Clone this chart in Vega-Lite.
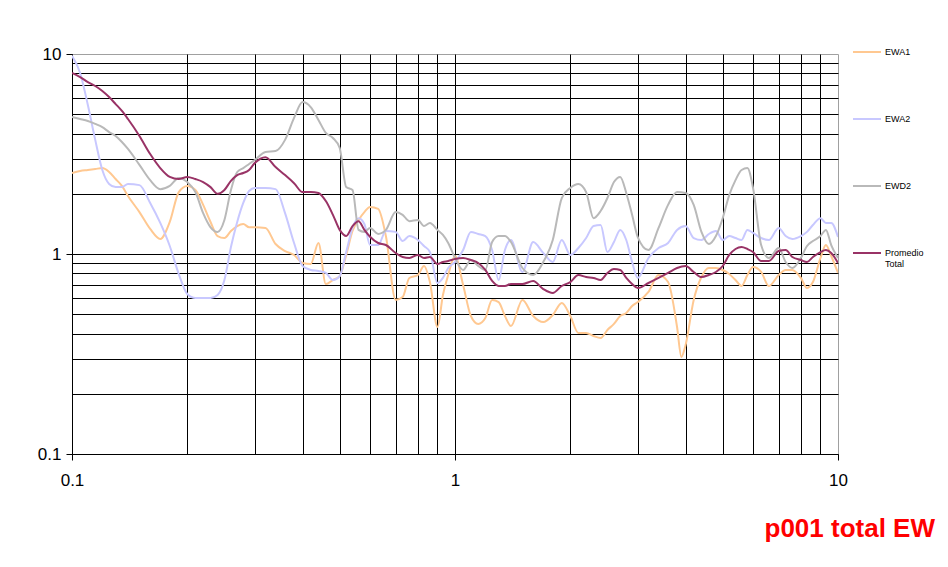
{
 "$schema": "https://vega.github.io/schema/vega-lite/v6.json",
 "width": 766, "height": 400,
 "autosize": {"type": "none"},
 "padding": {"left": 72, "top": 54, "right": 110, "bottom": 113},
 "background": "white",
 "config": {"view": {"stroke": "#a0a0a0", "strokeWidth": 1}, "font": "Liberation Sans"},
 "title": {"text": "p001 total EW", "orient": "bottom", "anchor": "end", "frame": "group", "color": "#FF0000", "fontSize": 26, "fontWeight": "bold", "font": "Liberation Sans", "dx": 97, "offset": 28},
 "data": {"values": [
{"series":"EWA1","x":0.1,"y":2.54},{"series":"EWA1","x":0.105,"y":2.6},{"series":"EWA1","x":0.11,"y":2.63},{"series":"EWA1","x":0.115,"y":2.66},{"series":"EWA1","x":0.12,"y":2.69},{"series":"EWA1","x":0.125,"y":2.57},{"series":"EWA1","x":0.13,"y":2.37},{"series":"EWA1","x":0.135,"y":2.19},{"series":"EWA1","x":0.14,"y":1.95},{"series":"EWA1","x":0.15,"y":1.62},{"series":"EWA1","x":0.16,"y":1.334},{"series":"EWA1","x":0.17,"y":1.189},{"series":"EWA1","x":0.18,"y":1.446},{"series":"EWA1","x":0.19,"y":2.04},{"series":"EWA1","x":0.2,"y":2.19},{"series":"EWA1","x":0.21,"y":2.09},{"series":"EWA1","x":0.22,"y":1.76},{"series":"EWA1","x":0.23,"y":1.446},{"series":"EWA1","x":0.24,"y":1.23},{"series":"EWA1","x":0.25,"y":1.202},{"series":"EWA1","x":0.26,"y":1.303},{"series":"EWA1","x":0.27,"y":1.38},{"series":"EWA1","x":0.28,"y":1.413},{"series":"EWA1","x":0.29,"y":1.36},{"series":"EWA1","x":0.3,"y":1.36},{"series":"EWA1","x":0.32,"y":1.35},{"series":"EWA1","x":0.34,"y":1.122},{"series":"EWA1","x":0.36,"y":1.035},{"series":"EWA1","x":0.38,"y":0.989},{"series":"EWA1","x":0.4,"y":0.902},{"series":"EWA1","x":0.42,"y":0.891},{"series":"EWA1","x":0.44,"y":1.135},{"series":"EWA1","x":0.46,"y":0.708},{"series":"EWA1","x":0.48,"y":0.741},{"series":"EWA1","x":0.5,"y":0.776},{"series":"EWA1","x":0.52,"y":0.989},{"series":"EWA1","x":0.54,"y":1.303},{"series":"EWA1","x":0.56,"y":1.48},{"series":"EWA1","x":0.58,"y":1.62},{"series":"EWA1","x":0.6,"y":1.72},{"series":"EWA1","x":0.63,"y":1.68},{"series":"EWA1","x":0.66,"y":1.23},{"series":"EWA1","x":0.7,"y":0.589},{"series":"EWA1","x":0.73,"y":0.609},{"series":"EWA1","x":0.76,"y":0.759},{"series":"EWA1","x":0.8,"y":0.785},{"series":"EWA1","x":0.83,"y":0.871},{"series":"EWA1","x":0.86,"y":0.724},{"series":"EWA1","x":0.9,"y":0.4315},{"series":"EWA1","x":0.93,"y":0.624},{"series":"EWA1","x":0.96,"y":0.785},{"series":"EWA1","x":1.0,"y":0.977},
{"series":"EWA1","x":1.05,"y":0.7},{"series":"EWA1","x":1.1,"y":0.49},{"series":"EWA1","x":1.15,"y":0.447},{"series":"EWA1","x":1.2,"y":0.4786},{"series":"EWA1","x":1.25,"y":0.589},{"series":"EWA1","x":1.3,"y":0.575},{"series":"EWA1","x":1.35,"y":0.49},{"series":"EWA1","x":1.4,"y":0.4365},
{"series":"EWA1","x":1.5,"y":0.589},{"series":"EWA1","x":1.6,"y":0.49},{"series":"EWA1","x":1.7,"y":0.457},{"series":"EWA1","x":1.8,"y":0.4955},{"series":"EWA1","x":1.9,"y":0.569},{"series":"EWA1","x":2.0,"y":0.49},{"series":"EWA1","x":2.1,"y":0.4027},{"series":"EWA1","x":2.2,"y":0.4027},{"series":"EWA1","x":2.3,"y":0.389},{"series":"EWA1","x":2.4,"y":0.38},{"series":"EWA1","x":2.5,"y":0.417},{"series":"EWA1","x":2.6,"y":0.447},{"series":"EWA1","x":2.7,"y":0.49},{"series":"EWA1","x":2.8,"y":0.507},{"series":"EWA1","x":2.9,"y":0.5496},{"series":"EWA1","x":3.0,"y":0.575},
{"series":"EWA1","x":3.2,"y":0.646},{"series":"EWA1","x":3.4,"y":0.785},{"series":"EWA1","x":3.6,"y":0.724},{"series":"EWA1","x":3.8,"y":0.4315},{"series":"EWA1","x":3.9,"y":0.3055},{"series":"EWA1","x":4.0,"y":0.3507},{"series":"EWA1","x":4.2,"y":0.589},{"series":"EWA1","x":4.4,"y":0.767},{"series":"EWA1","x":4.6,"y":0.851},{"series":"EWA1","x":4.8,"y":0.851},{"series":"EWA1","x":5.0,"y":0.832},{"series":"EWA1","x":5.2,"y":0.794},{"series":"EWA1","x":5.4,"y":0.741},{"series":"EWA1","x":5.6,"y":0.692},{"series":"EWA1","x":5.8,"y":0.785},{"series":"EWA1","x":6.0,"y":0.861},
{"series":"EWA1","x":6.3,"y":0.813},{"series":"EWA1","x":6.6,"y":0.692},{"series":"EWA1","x":7.0,"y":0.785},{"series":"EWA1","x":7.3,"y":0.832},{"series":"EWA1","x":7.6,"y":0.832},{"series":"EWA1","x":8.0,"y":0.759},{"series":"EWA1","x":8.3,"y":0.676},{"series":"EWA1","x":8.6,"y":0.724},{"series":"EWA1","x":9.0,"y":0.955},{"series":"EWA1","x":9.3,"y":1.109},{"series":"EWA1","x":9.6,"y":0.977},{"series":"EWA1","x":10,"y":0.804},

{"series":"EWA2","x":0.1,"y":9.8},{"series":"EWA2","x":0.105,"y":8.04},{"series":"EWA2","x":0.11,"y":5.56},{"series":"EWA2","x":0.115,"y":3.72},{"series":"EWA2","x":0.12,"y":2.63},{"series":"EWA2","x":0.125,"y":2.24},{"series":"EWA2","x":0.13,"y":2.16},{"series":"EWA2","x":0.135,"y":2.16},{"series":"EWA2","x":0.14,"y":2.24},{"series":"EWA2","x":0.15,"y":2.21},{"series":"EWA2","x":0.16,"y":1.8},{"series":"EWA2","x":0.17,"y":1.43},{"series":"EWA2","x":0.18,"y":1.0965},{"series":"EWA2","x":0.19,"y":0.794},{"series":"EWA2","x":0.2,"y":0.631},{"series":"EWA2","x":0.21,"y":0.6025},{"series":"EWA2","x":0.22,"y":0.6025},{"series":"EWA2","x":0.23,"y":0.6025},{"series":"EWA2","x":0.24,"y":0.624},{"series":"EWA2","x":0.25,"y":0.741},{"series":"EWA2","x":0.26,"y":1.084},{"series":"EWA2","x":0.27,"y":1.446},{"series":"EWA2","x":0.28,"y":1.8},{"series":"EWA2","x":0.29,"y":2.065},{"series":"EWA2","x":0.3,"y":2.14},{"series":"EWA2","x":0.32,"y":2.14},{"series":"EWA2","x":0.34,"y":2.11},{"series":"EWA2","x":0.36,"y":1.6},{"series":"EWA2","x":0.38,"y":1.135},{"series":"EWA2","x":0.4,"y":0.871},{"series":"EWA2","x":0.42,"y":0.832},{"series":"EWA2","x":0.44,"y":0.822},{"series":"EWA2","x":0.46,"y":0.804},{"series":"EWA2","x":0.48,"y":0.741},{"series":"EWA2","x":0.5,"y":0.776},{"series":"EWA2","x":0.52,"y":1.023},{"series":"EWA2","x":0.54,"y":1.35},{"series":"EWA2","x":0.56,"y":1.51},{"series":"EWA2","x":0.58,"y":1.413},{"series":"EWA2","x":0.6,"y":1.109},{"series":"EWA2","x":0.63,"y":1.109},{"series":"EWA2","x":0.66,"y":1.303},{"series":"EWA2","x":0.7,"y":1.29},{"series":"EWA2","x":0.73,"y":1.161},{"series":"EWA2","x":0.76,"y":1.23},{"series":"EWA2","x":0.8,"y":1.175},{"series":"EWA2","x":0.83,"y":1.0965},{"series":"EWA2","x":0.86,"y":1.023},{"series":"EWA2","x":0.9,"y":0.716},{"series":"EWA2","x":0.93,"y":0.759},{"series":"EWA2","x":0.96,"y":0.851},{"series":"EWA2","x":1.0,"y":0.912},
{"series":"EWA2","x":1.05,"y":1.047},{"series":"EWA2","x":1.1,"y":1.29},{"series":"EWA2","x":1.15,"y":1.259},{"series":"EWA2","x":1.2,"y":1.23},{"series":"EWA2","x":1.25,"y":1.047},{"series":"EWA2","x":1.3,"y":0.741},{"series":"EWA2","x":1.35,"y":1.047},{"series":"EWA2","x":1.4,"y":1.175},
{"series":"EWA2","x":1.5,"y":0.813},{"series":"EWA2","x":1.6,"y":1.148},{"series":"EWA2","x":1.7,"y":1.012},{"series":"EWA2","x":1.8,"y":0.912},{"series":"EWA2","x":1.9,"y":1.175},{"series":"EWA2","x":2.0,"y":0.989},{"series":"EWA2","x":2.1,"y":1.0715},{"series":"EWA2","x":2.2,"y":1.202},{"series":"EWA2","x":2.3,"y":1.38},{"series":"EWA2","x":2.4,"y":1.396},{"series":"EWA2","x":2.5,"y":1.023},{"series":"EWA2","x":2.6,"y":1.148},{"series":"EWA2","x":2.7,"y":1.32},{"series":"EWA2","x":2.8,"y":1.175},{"series":"EWA2","x":2.9,"y":0.912},{"series":"EWA2","x":3.0,"y":0.759},
{"series":"EWA2","x":3.2,"y":0.955},{"series":"EWA2","x":3.4,"y":1.0715},{"series":"EWA2","x":3.6,"y":1.135},{"series":"EWA2","x":3.8,"y":1.32},{"series":"EWA2","x":4.0,"y":1.38},{"series":"EWA2","x":4.2,"y":1.202},{"series":"EWA2","x":4.4,"y":1.175},{"series":"EWA2","x":4.6,"y":1.259},{"series":"EWA2","x":4.8,"y":1.303},{"series":"EWA2","x":5.0,"y":1.175},{"series":"EWA2","x":5.2,"y":1.23},{"series":"EWA2","x":5.4,"y":1.202},{"series":"EWA2","x":5.6,"y":1.175},{"series":"EWA2","x":5.8,"y":1.32},{"series":"EWA2","x":6.0,"y":1.274},
{"series":"EWA2","x":6.3,"y":1.202},{"series":"EWA2","x":6.6,"y":1.175},{"series":"EWA2","x":7.0,"y":1.35},{"series":"EWA2","x":7.3,"y":1.23},{"series":"EWA2","x":7.6,"y":1.189},{"series":"EWA2","x":8.0,"y":1.23},{"series":"EWA2","x":8.3,"y":1.29},{"series":"EWA2","x":8.6,"y":1.396},{"series":"EWA2","x":9.0,"y":1.51},{"series":"EWA2","x":9.3,"y":1.43},{"series":"EWA2","x":9.6,"y":1.43},{"series":"EWA2","x":10,"y":1.216},

{"series":"EWD2","x":0.1,"y":4.84},{"series":"EWD2","x":0.105,"y":4.73},{"series":"EWD2","x":0.11,"y":4.62},{"series":"EWD2","x":0.115,"y":4.47},{"series":"EWD2","x":0.12,"y":4.31},{"series":"EWD2","x":0.125,"y":4.07},{"series":"EWD2","x":0.13,"y":3.89},{"series":"EWD2","x":0.135,"y":3.63},{"series":"EWD2","x":0.14,"y":3.35},{"series":"EWD2","x":0.15,"y":2.79},{"series":"EWD2","x":0.16,"y":2.34},{"series":"EWD2","x":0.17,"y":2.11},{"series":"EWD2","x":0.18,"y":2.19},{"series":"EWD2","x":0.19,"y":2.4},{"series":"EWD2","x":0.2,"y":2.29},{"series":"EWD2","x":0.21,"y":2.04},{"series":"EWD2","x":0.22,"y":1.6},{"series":"EWD2","x":0.23,"y":1.36},{"series":"EWD2","x":0.24,"y":1.29},{"series":"EWD2","x":0.25,"y":1.48},{"series":"EWD2","x":0.26,"y":2.09},{"series":"EWD2","x":0.27,"y":2.57},{"series":"EWD2","x":0.28,"y":2.69},{"series":"EWD2","x":0.29,"y":2.82},{"series":"EWD2","x":0.3,"y":2.95},{"series":"EWD2","x":0.32,"y":3.24},{"series":"EWD2","x":0.34,"y":3.27},{"series":"EWD2","x":0.36,"y":3.72},{"series":"EWD2","x":0.38,"y":4.79},{"series":"EWD2","x":0.4,"y":5.75},{"series":"EWD2","x":0.42,"y":5.43},{"series":"EWD2","x":0.44,"y":4.68},{"series":"EWD2","x":0.46,"y":4.03},{"series":"EWD2","x":0.48,"y":3.8},{"series":"EWD2","x":0.5,"y":3.39},{"series":"EWD2","x":0.52,"y":2.16},{"series":"EWD2","x":0.54,"y":2.09},{"series":"EWD2","x":0.56,"y":1.32},{"series":"EWD2","x":0.58,"y":1.29},{"series":"EWD2","x":0.6,"y":1.35},{"series":"EWD2","x":0.63,"y":1.26},{"series":"EWD2","x":0.66,"y":1.32},{"series":"EWD2","x":0.7,"y":1.62},{"series":"EWD2","x":0.73,"y":1.57},{"series":"EWD2","x":0.76,"y":1.46},{"series":"EWD2","x":0.8,"y":1.48},{"series":"EWD2","x":0.83,"y":1.38},{"series":"EWD2","x":0.86,"y":1.43},{"series":"EWD2","x":0.9,"y":1.32},{"series":"EWD2","x":0.93,"y":1.245},{"series":"EWD2","x":0.96,"y":1.135},{"series":"EWD2","x":1.0,"y":0.955},
{"series":"EWD2","x":1.05,"y":0.832},{"series":"EWD2","x":1.1,"y":0.933},{"series":"EWD2","x":1.15,"y":0.871},{"series":"EWD2","x":1.2,"y":0.832},{"series":"EWD2","x":1.25,"y":1.148},{"series":"EWD2","x":1.3,"y":1.23},{"series":"EWD2","x":1.35,"y":1.23},{"series":"EWD2","x":1.4,"y":1.148},
{"series":"EWD2","x":1.5,"y":0.851},{"series":"EWD2","x":1.6,"y":0.785},{"series":"EWD2","x":1.7,"y":0.912},{"series":"EWD2","x":1.8,"y":1.175},{"series":"EWD2","x":1.9,"y":1.905},{"series":"EWD2","x":2.0,"y":2.14},{"series":"EWD2","x":2.1,"y":2.24},{"series":"EWD2","x":2.2,"y":2.04},{"series":"EWD2","x":2.3,"y":1.51},{"series":"EWD2","x":2.4,"y":1.64},{"series":"EWD2","x":2.5,"y":1.905},{"series":"EWD2","x":2.6,"y":2.29},{"series":"EWD2","x":2.7,"y":2.43},{"series":"EWD2","x":2.8,"y":2.02},{"series":"EWD2","x":2.9,"y":1.57},{"series":"EWD2","x":3.0,"y":1.216},
{"series":"EWD2","x":3.2,"y":1.047},{"series":"EWD2","x":3.4,"y":1.35},{"series":"EWD2","x":3.6,"y":1.76},{"series":"EWD2","x":3.8,"y":2.04},{"series":"EWD2","x":4.0,"y":2.02},{"series":"EWD2","x":4.2,"y":1.76},{"series":"EWD2","x":4.4,"y":1.29},{"series":"EWD2","x":4.6,"y":1.122},{"series":"EWD2","x":4.8,"y":1.23},{"series":"EWD2","x":5.0,"y":1.51},{"series":"EWD2","x":5.2,"y":1.97},{"series":"EWD2","x":5.4,"y":2.34},{"series":"EWD2","x":5.6,"y":2.63},{"series":"EWD2","x":5.8,"y":2.69},{"series":"EWD2","x":6.0,"y":2.14},
{"series":"EWD2","x":6.3,"y":1.109},{"series":"EWD2","x":6.6,"y":0.955},{"series":"EWD2","x":7.0,"y":1.0715},{"series":"EWD2","x":7.3,"y":0.912},{"series":"EWD2","x":7.6,"y":0.851},{"series":"EWD2","x":8.0,"y":0.955},{"series":"EWD2","x":8.3,"y":1.0965},{"series":"EWD2","x":8.6,"y":1.161},{"series":"EWD2","x":9.0,"y":1.23},{"series":"EWD2","x":9.3,"y":1.32},{"series":"EWD2","x":9.6,"y":1.109},{"series":"EWD2","x":10,"y":0.955},

{"series":"Promedio Total","x":0.1,"y":8.04},{"series":"Promedio Total","x":0.105,"y":7.67},{"series":"Promedio Total","x":0.11,"y":7.24},{"series":"Promedio Total","x":0.115,"y":6.92},{"series":"Promedio Total","x":0.12,"y":6.53},{"series":"Promedio Total","x":0.125,"y":6.09},{"series":"Promedio Total","x":0.13,"y":5.62},{"series":"Promedio Total","x":0.135,"y":5.19},{"series":"Promedio Total","x":0.14,"y":4.73},{"series":"Promedio Total","x":0.15,"y":3.89},{"series":"Promedio Total","x":0.16,"y":3.16},{"series":"Promedio Total","x":0.17,"y":2.69},{"series":"Promedio Total","x":0.18,"y":2.43},{"series":"Promedio Total","x":0.19,"y":2.37},{"series":"Promedio Total","x":0.2,"y":2.43},{"series":"Promedio Total","x":0.21,"y":2.37},{"series":"Promedio Total","x":0.22,"y":2.29},{"series":"Promedio Total","x":0.23,"y":2.16},{"series":"Promedio Total","x":0.24,"y":2.0},{"series":"Promedio Total","x":0.25,"y":2.09},{"series":"Promedio Total","x":0.26,"y":2.32},{"series":"Promedio Total","x":0.27,"y":2.48},{"series":"Promedio Total","x":0.28,"y":2.54},{"series":"Promedio Total","x":0.29,"y":2.63},{"series":"Promedio Total","x":0.3,"y":2.85},{"series":"Promedio Total","x":0.32,"y":3.05},{"series":"Promedio Total","x":0.34,"y":2.72},{"series":"Promedio Total","x":0.36,"y":2.48},{"series":"Promedio Total","x":0.38,"y":2.26},{"series":"Promedio Total","x":0.4,"y":2.04},{"series":"Promedio Total","x":0.42,"y":2.04},{"series":"Promedio Total","x":0.44,"y":2.02},{"series":"Promedio Total","x":0.46,"y":1.84},{"series":"Promedio Total","x":0.48,"y":1.57},{"series":"Promedio Total","x":0.5,"y":1.32},{"series":"Promedio Total","x":0.52,"y":1.23},{"series":"Promedio Total","x":0.54,"y":1.38},{"series":"Promedio Total","x":0.56,"y":1.46},{"series":"Promedio Total","x":0.58,"y":1.32},{"series":"Promedio Total","x":0.6,"y":1.22},{"series":"Promedio Total","x":0.63,"y":1.135},{"series":"Promedio Total","x":0.66,"y":1.109},{"series":"Promedio Total","x":0.7,"y":1.012},{"series":"Promedio Total","x":0.73,"y":0.966},{"series":"Promedio Total","x":0.76,"y":0.955},{"series":"Promedio Total","x":0.8,"y":0.989},{"series":"Promedio Total","x":0.83,"y":0.955},{"series":"Promedio Total","x":0.86,"y":0.966},{"series":"Promedio Total","x":0.9,"y":0.891},{"series":"Promedio Total","x":0.93,"y":0.912},{"series":"Promedio Total","x":0.96,"y":0.923},{"series":"Promedio Total","x":1.0,"y":0.944},
{"series":"Promedio Total","x":1.05,"y":0.955},{"series":"Promedio Total","x":1.1,"y":0.933},{"series":"Promedio Total","x":1.15,"y":0.902},{"series":"Promedio Total","x":1.2,"y":0.832},{"series":"Promedio Total","x":1.25,"y":0.733},{"series":"Promedio Total","x":1.3,"y":0.692},{"series":"Promedio Total","x":1.35,"y":0.692},{"series":"Promedio Total","x":1.4,"y":0.708},
{"series":"Promedio Total","x":1.5,"y":0.708},{"series":"Promedio Total","x":1.6,"y":0.733},{"series":"Promedio Total","x":1.7,"y":0.668},{"series":"Promedio Total","x":1.8,"y":0.638},{"series":"Promedio Total","x":1.9,"y":0.692},{"series":"Promedio Total","x":2.0,"y":0.724},{"series":"Promedio Total","x":2.1,"y":0.785},{"series":"Promedio Total","x":2.2,"y":0.767},{"series":"Promedio Total","x":2.3,"y":0.759},{"series":"Promedio Total","x":2.4,"y":0.741},{"series":"Promedio Total","x":2.5,"y":0.804},{"series":"Promedio Total","x":2.6,"y":0.841},{"series":"Promedio Total","x":2.7,"y":0.832},{"series":"Promedio Total","x":2.8,"y":0.759},{"series":"Promedio Total","x":2.9,"y":0.708},{"series":"Promedio Total","x":3.0,"y":0.676},
{"series":"Promedio Total","x":3.2,"y":0.716},{"series":"Promedio Total","x":3.4,"y":0.759},{"series":"Promedio Total","x":3.6,"y":0.804},{"series":"Promedio Total","x":3.8,"y":0.851},{"series":"Promedio Total","x":4.0,"y":0.871},{"series":"Promedio Total","x":4.2,"y":0.813},{"series":"Promedio Total","x":4.4,"y":0.767},{"series":"Promedio Total","x":4.6,"y":0.785},{"series":"Promedio Total","x":4.8,"y":0.813},{"series":"Promedio Total","x":5.0,"y":0.871},{"series":"Promedio Total","x":5.2,"y":0.989},{"series":"Promedio Total","x":5.4,"y":1.059},{"series":"Promedio Total","x":5.6,"y":1.084},{"series":"Promedio Total","x":5.8,"y":1.059},{"series":"Promedio Total","x":6.0,"y":1.023},
{"series":"Promedio Total","x":6.3,"y":0.923},{"series":"Promedio Total","x":6.6,"y":0.923},{"series":"Promedio Total","x":7.0,"y":1.035},{"series":"Promedio Total","x":7.3,"y":1.047},{"series":"Promedio Total","x":7.6,"y":0.966},{"series":"Promedio Total","x":8.0,"y":0.933},{"series":"Promedio Total","x":8.3,"y":0.912},{"series":"Promedio Total","x":8.6,"y":0.966},{"series":"Promedio Total","x":9.0,"y":1.023},{"series":"Promedio Total","x":9.3,"y":1.047},{"series":"Promedio Total","x":9.6,"y":1.012},{"series":"Promedio Total","x":10,"y":0.902}
 ]},
 "mark": {"type": "line", "interpolate": "monotone", "clip": true},
 "encoding": {
  "x": {"field": "x", "type": "quantitative", "scale": {"type": "log", "domain": [0.1, 10], "nice": false},
        "axis": {"title": null, "values": [0.1,0.2,0.3,0.4,0.5,0.6,0.7,0.8,0.9,1,2,3,4,5,6,7,8,9,10], "format": "~g",
                 "labelExpr": "(datum.value == 0.1 || datum.value == 1 || datum.value == 10) ? datum.label : ''",
                 "labelFont": "Liberation Sans", "labelFontSize": 17, "labelColor": "#000", "labelPadding": 12, "labelOverlap": false, "labelFlush": false,
                 "tickSize": 6, "tickColor": "#000", "tickOpacity": {"condition": {"test": "datum.value == 0.1 || datum.value == 1 || datum.value == 10", "value": 1}, "value": 0},
                 "domainColor": "#000", "domainWidth": 1,
                 "grid": true, "gridColor": "#000", "gridWidth": 1, "gridOpacity": {"condition": {"test": "datum.value >= 10", "value": 0}, "value": 1}}},
  "y": {"field": "y", "type": "quantitative", "scale": {"type": "log", "domain": [0.1, 10], "nice": false},
        "axis": {"title": null, "values": [0.1,0.2,0.3,0.4,0.5,0.6,0.7,0.8,0.9,1,2,3,4,5,6,7,8,9,10], "format": "~g",
                 "labelExpr": "(datum.value == 0.1 || datum.value == 1 || datum.value == 10) ? datum.label : ''",
                 "labelFont": "Liberation Sans", "labelFontSize": 17, "labelColor": "#000", "labelPadding": 5, "labelOverlap": false, "labelFlush": false,
                 "tickSize": 6, "tickColor": "#000", "tickOpacity": {"condition": {"test": "datum.value == 0.1 || datum.value == 1 || datum.value == 10", "value": 1}, "value": 0},
                 "domainColor": "#000", "domainWidth": 1,
                 "grid": true, "gridColor": "#000", "gridWidth": 1, "gridOpacity": {"condition": {"test": "datum.value >= 10", "value": 0}, "value": 1}}},
  "color": {"field": "series", "type": "nominal",
            "scale": {"domain": ["EWA1", "EWA2", "EWD2", "Promedio Total"], "range": ["#FFC891", "#C8C8FF", "#B9B9B9", "#993366"]},
            "legend": {"title": null, "orient": "none", "legendX": 780, "legendY": -17, "padding": 0,
                       "symbolType": "stroke", "symbolSize": 784, "labelFont": "Liberation Sans", "labelFontSize": 9, "labelColor": "#000",
                       "labelOffset": 3, "rowPadding": 47,
                       "labelExpr": "datum.label == 'Promedio Total' ? ['Promedio', 'Total'] : datum.label"}},
  "strokeWidth": {"field": "series", "type": "nominal",
            "scale": {"domain": ["EWA1", "EWA2", "EWD2", "Promedio Total"], "range": [2, 2, 2, 3.5]}}
 }
}
